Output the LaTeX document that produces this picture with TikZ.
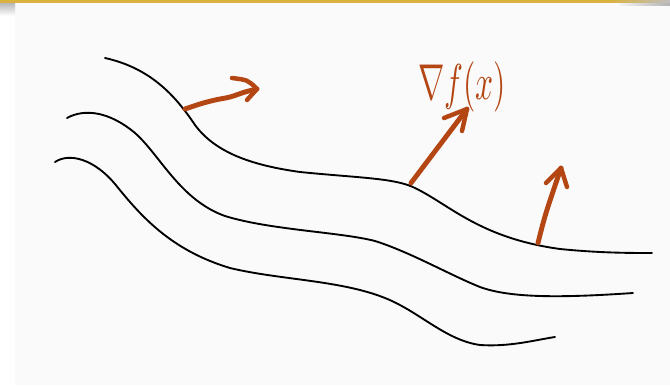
\documentclass[tikz,border=0pt]{standalone}
\usetikzlibrary{arrows.meta}
\definecolor{panel}{HTML}{FAFAFA}
\definecolor{gold}{HTML}{D9B23F}
\definecolor{rust}{RGB}{180,70,20}
\begin{document}
\begin{tikzpicture}[x=0.03cm,y=-0.03cm,
  level/.style={line width=1.6pt,line cap=round,line join=round,black},
  grad/.style={line width=4.2pt,line cap=round,line join=round,rust},
  barb/.style={line width=3.8pt,line cap=round,line join=round,rust}]
\useasboundingbox (0,0) rectangle (670,387);
\fill[white] (0,0) rectangle (670,387);
\fill[panel] (15,3) rectangle (670,385);
\shade[top color=gray!60,bottom color=white] (0,2) rectangle (15,16);
\shade[left color=gray!10,right color=gray!60] (620,2) rectangle (670,5);
\fill[gold] (0,0) rectangle (620,2.5);
\shade[left color=gold,right color=gray!50] (610,0) rectangle (670,2.5);
% level curves
\draw[level] (105,58) .. controls (150,68) and (175,95) .. (195,125)
  .. controls (215,152) and (250,165) .. (300,172)
  .. controls (360,178) and (395,178) .. (415,188)
  .. controls (450,205) and (480,238) .. (560,249)
  .. controls (600,253) and (630,253) .. (652,253);
\draw[level] (67,118) .. controls (85,108) and (110,112) .. (135,133)
  .. controls (160,155) and (180,200) .. (225,216)
  .. controls (270,230) and (340,232) .. (375,241)
  .. controls (410,252) and (450,275) .. (480,287)
  .. controls (510,298) and (560,298) .. (633,293);
\draw[level] (55,162) .. controls (70,152) and (95,160) .. (115,184)
  .. controls (140,215) and (170,250) .. (230,268)
  .. controls (280,280) and (340,280) .. (385,298)
  .. controls (420,312) and (445,340) .. (480,345)
  .. controls (510,347) and (535,340) .. (555,337);
% gradient arrows
\coordinate (p1) at (185,109);
\coordinate (t1) at (257,89);
\coordinate (p2) at (411,183);
\coordinate (t2) at (467,109);
\coordinate (p3) at (538,243);
\coordinate (t3) at (561,168);
\draw[grad] plot[smooth,tension=0.6] coordinates {(p1) (200,104) (215,100) (230,97) (245,92) (t1)};
\draw[barb] (232,78) .. controls (248,80) .. (t1) -- (247,100);
\draw[grad] (p2) -- (t2);
\draw[barb] (444,118) -- (t2) -- (462,131);
\draw[grad] (p3) .. controls (545,215) .. (t3);
\draw[barb] (546,183) -- (t3) -- (567,187);
\node[text=rust,xscale=2.7,yscale=4.3,inner sep=0] (lab) at (462,87) {$\nabla f(x)$};
\end{tikzpicture}
\end{document}
